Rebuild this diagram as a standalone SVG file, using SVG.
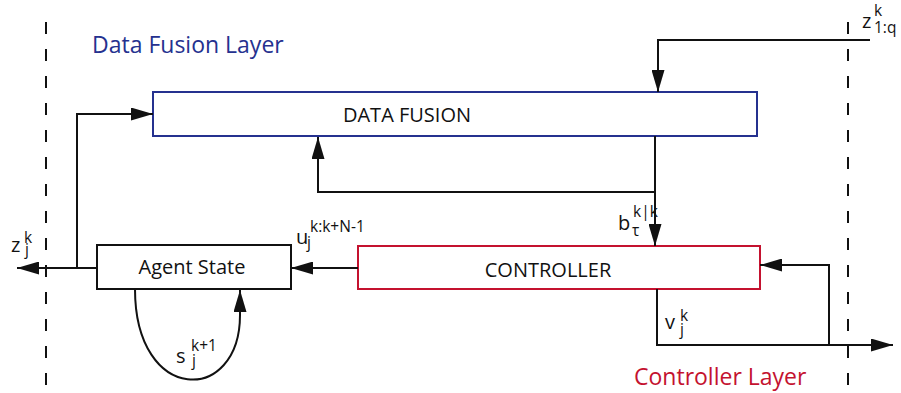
<svg xmlns="http://www.w3.org/2000/svg" width="901" height="393" viewBox="0 0 901 393">
<defs>
<marker id="ah" viewBox="0 0 22 13" refX="22" refY="6.5" markerWidth="22" markerHeight="13" markerUnits="userSpaceOnUse" orient="auto">
<path d="M0,0 L22,6.5 L0,13 Z" fill="#111"/>
</marker>
<style>
.t{font-family:"Open Sans","Liberation Sans",sans-serif;fill:#111}
.lbl{font-size:20px}
.m{font-size:20px}
.s{font-size:15.5px}
.c{stroke:#111;stroke-width:2;fill:none}
.dash{stroke:#111;stroke-width:2;stroke-dasharray:12 15;fill:none}
</style>
</defs>
<rect width="901" height="393" fill="#fff"/>
<line class="dash" x1="46" y1="22" x2="46" y2="387"/>
<line class="dash" x1="848" y1="22" x2="848" y2="387"/>
<text class="t" x="92" y="53" font-size="23" style="fill:#25318f">Data Fusion Layer</text>
<text class="t" x="634" y="385" font-size="23" style="fill:#c4122f">Controller Layer</text>
<g id="data-fusion">
<rect x="153" y="92" width="604" height="44" fill="#fff" stroke="#25318f" stroke-width="2"/>
<text class="t lbl" x="407" y="122" text-anchor="middle">DATA FUSION</text>
</g>
<g id="controller">
<rect x="358" y="246" width="402" height="43" fill="#fff" stroke="#c4122f" stroke-width="2"/>
<text class="t lbl" x="548" y="277" text-anchor="middle">CONTROLLER</text>
</g>
<g id="agent-state">
<rect x="97" y="245" width="194" height="44" fill="#fff" stroke="#111" stroke-width="2"/>
<text class="t lbl" x="192" y="274" text-anchor="middle">Agent State</text>
</g>
<g id="connectors">
<path class="c" d="M870,40 H658 V92" marker-end="url(#ah)"/>
<path class="c" d="M655,136 V246" marker-end="url(#ah)"/>
<path class="c" d="M655,192 H318 V137" marker-end="url(#ah)"/>
<path class="c" d="M358,268 H291" marker-end="url(#ah)"/>
<path class="c" d="M97,268 H17" marker-end="url(#ah)"/>
<path class="c" d="M77,268 V114 H153" marker-end="url(#ah)"/>
<path class="c" d="M135,289 C135,405 240,405 240,315 L240,290" marker-end="url(#ah)"/>
<path class="c" d="M657,289 V345 H893" marker-end="url(#ah)"/>
<path class="c" d="M829,345 V265 H760" marker-end="url(#ah)"/>
</g>
<g id="labels">
<text class="t"><tspan class="m" x="11" y="252">z</tspan><tspan class="s" x="24" y="243">k</tspan><tspan class="s" x="25" y="255">j</tspan></text>
<text class="t"><tspan class="m" x="296" y="244">u</tspan><tspan class="s" x="307" y="248">j</tspan><tspan class="s" x="310" y="232">k:k+N-1</tspan></text>
<text class="t"><tspan class="m" x="618" y="230">b</tspan><tspan class="s" x="632" y="236">τ</tspan><tspan class="s" x="633" y="217">k|k</tspan></text>
<text class="t"><tspan class="m" x="665" y="329">v</tspan><tspan class="s" x="680" y="321">k</tspan><tspan class="s" x="680" y="335">j</tspan></text>
<text class="t"><tspan class="m" x="176" y="363">s</tspan><tspan class="s" x="191" y="351">k+1</tspan><tspan class="s" x="192" y="366">j</tspan></text>
<text class="t"><tspan class="m" x="862" y="28">z</tspan><tspan class="s" x="874" y="16">k</tspan><tspan class="s" x="874" y="33">1:q</tspan></text>
</g>
</svg>
